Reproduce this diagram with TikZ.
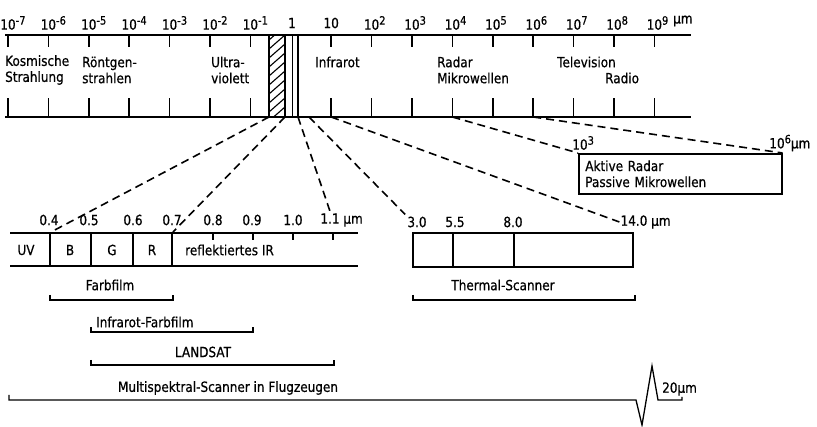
\documentclass[tikz,border=0pt]{standalone}
\usepackage{fontspec}
\setmainfont{DejaVu Sans}[FakeStretch=0.86,FakeBold=0.6]
\usetikzlibrary{positioning}
\newcommand{\tenp}[1]{10\rlap{\raisebox{5pt}{\fontsize{11.5}{11}\selectfont#1}}}
\tikzset{
  lbl/.style={inner sep=0pt,font=\fontsize{14}{16}\selectfont},
  bar/.style={line width=1.6pt},
  ray/.style={line width=1.6pt,dash pattern=on 8pt off 5pt},
  brace/.style={line width=1.3pt}
}
\begin{document}
\begin{tikzpicture}[x=1pt,y=-1pt,every node/.style={lbl}]
\useasboundingbox (0,0) rectangle (817,427);
\draw[bar] (5,35) -- (691,35) (5,117) -- (691,117);
\foreach \k/\e in {0/-7,1/-6,2/-5,3/-4,4/-3,5/-2,6/-1,8/,9/2,10/3,11/4,12/5,13/6,14/7,15/8,16/9}{
  \coordinate (t\k) at ({8+40.4*\k},35);
  \coordinate (b\k) at ({8+40.4*\k},117);
  \draw[bar] (t\k) -- ++(0,12) (b\k) -- ++(0,-19);
  \node (p\k) at ({8+40.4*\k},23) {\tenp{\e}};
}
\node (p7) at (292,23) {1};
\node[anchor=west] (um) at (673,21) {µm};
\begin{scope}
  \clip (269,35) rectangle (285,117);
  \foreach \y in {40,49,...,140} \draw[line width=1.1pt] (269,\y) -- (285,\y-14);
\end{scope}
\draw[bar] (269,35) -- (269,117) (285,35) -- (285,117);
\draw[line width=0.9pt] (292,35) -- (292,117);
\draw[bar] (298,35) -- (298,117);
\coordinate (hl) at (269,117);
\coordinate (hr) at (285,117);
\coordinate (nir) at (298,117);
\coordinate (mir) at (309,117);
\node[anchor=west,align=left] (kos) at (5,70) {Kosmische\\Strahlung};
\node[anchor=west,align=left] (roe) at (82,70) {Röntgen-\\strahlen};
\node[anchor=west,align=left] (uv) at (211,70) {Ultra-\\violett};
\node[anchor=west] (ir) at (315,62) {Infrarot};
\node[anchor=west,align=left] (mw) at (437,70) {Radar\\Mikrowellen};
\node[anchor=west] (tv) at (557,62) {Television};
\node[anchor=west] (rad) at (605,78) {Radio};
\node[draw,bar,anchor=north west,align=left,text width=190pt,inner xsep=6.5pt,minimum height=40pt] (radar) at (578,153) {Aktive Radar\\Passive Mikrowellen};
\node (r3) at (580,143) {\tenp{3}};
\node (r6) at (777,143) {10\rlap{\raisebox{5pt}{\fontsize{11.5}{11}\selectfont6}µm}};
\draw[ray] (b11) -- (radar.north west);
\draw[ray] (b13) -- (radar.north east);
\draw[bar] (10,233) -- (358,233) (10,266) -- (358,266);
\foreach \x in {50,91,133,172} \draw[bar] (\x,233) -- (\x,266);
\foreach \x in {213,253,293,333} \draw[bar] (\x,233) -- (\x,240);
\coordinate (v4) at (51,232);
\coordinate (v7) at (173,232);
\foreach \x/\v/\n in {49/0.4/a,89/0.5/b,133/0.6/c,172/0.7/d,213/0.8/e,252/0.9/f,293/1.0/g}
  \node (w\n) at (\x,220) {\v};
\node (w11) at (330,220) {1.1\rlap{ µm}};
\node (uvc) at (26,250) {UV};
\node (bc) at (70,250) {B};
\node (gc) at (112,250) {G};
\node (rc) at (152,250) {R};
\node[anchor=west] (ric) at (185,250) {reflektiertes IR};
\draw[ray] (hl) -- (v4);
\draw[ray] (hr) -- (v7);
\draw[ray] (nir) -- ([yshift=2pt]w11.north);
\draw[bar] (413,233) rectangle (633,267);
\draw[bar] (453,233) -- (453,267) (514,233) -- (514,267);
\node (th1) at (417,222) {3.0};
\node (th2) at (455,222) {5.5};
\node (th3) at (513,222) {8.0};
\node (th4) at (634,222) {14.0\rlap{ µm}};
\draw[ray] (mir) -- ([shift={(-2pt,2pt)}]th1.north west);
\draw[ray] (b8) -- ([xshift=-1pt]th4.west);
\draw[brace] (50,295) |- (173,300) -- (173,295);
\node (ff) at (110,285) {Farbfilm};
\draw[brace] (413,295) |- (635,300) -- (635,295);
\node (ts) at (503,285) {Thermal-Scanner};
\draw[brace] (91,327) |- (253,332) -- (253,327);
\node[anchor=west] (iff) at (96,322) {Infrarot-Farbfilm};
\draw[brace] (91,360) |- (334,365) -- (334,360);
\node (ls) at (203,352) {LANDSAT};
\draw[brace] (9,395) |- (636,400) -- (642,425) -- (652,366) -- (658,400) -- (682,400) -- (682,397);
\node (ms) at (228,388) {Multispektral-Scanner in Flugzeugen};
\node[anchor=west] (tw) at (662,389) {20µm};
\end{tikzpicture}
\end{document}
